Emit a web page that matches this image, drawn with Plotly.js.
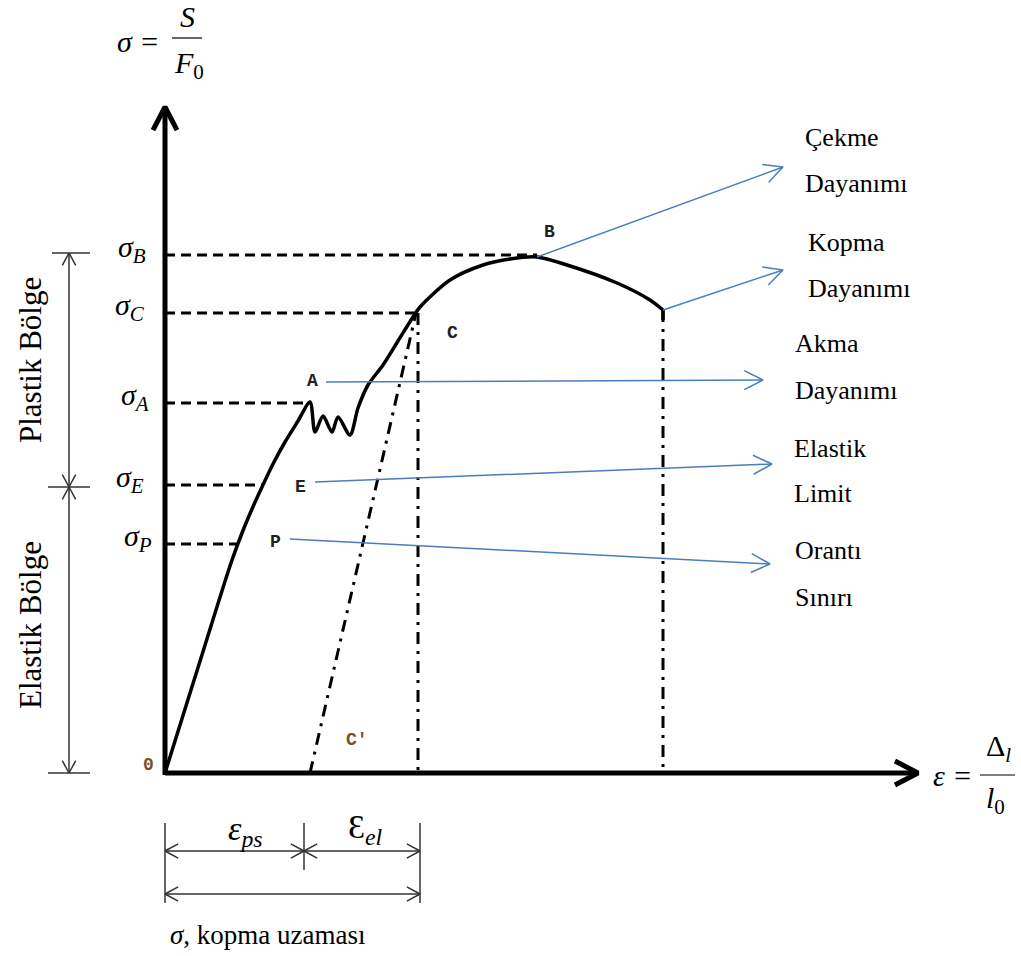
<!DOCTYPE html>
<html><head><meta charset="utf-8">
<script src="https://cdn.plot.ly/plotly-3.0.1.min.js"></script>
<style>html,body{margin:0;padding:0;background:#fff}#chart{width:1021px;height:956px}</style>
</head><body><div id="chart"></div>
<script>
// ---- data (strain units, stress units; origin at 0,0) ----
const curveStrain = [0,36,66,77,87,97,108,120,133,145,150,158,167,173,185,193,203,218,233,248,255,285,318,345,372,402,452,485,498];
const curveStress = [0,115,210,240,264,286,309,331,352,371,341,357,341,356,338,365,388,408,432,456,466,493,508,514,516,508,490,473,463];
const levelNames = ['B','C','A','E','P'];
const levelStress = [518,460,370,288,229];
const levelStrain = [372,250,145,97,72];
const levelLabelX = [-33,-35,-30,-35,-27];
const unloadStrain = [145,251];       // C' -> C
const unloadStress = [0,460];
const cStrain = 253, cStress = 460;
const fractureStrain = 498, fractureStress = 463;
const epsPlastic = 139, epsTotal = 255;
const pointNames = ['B','C','A','E','P',"C'",'0'];
const pointX = [384,287,147,135,110,192,-17];
const pointY = [541,440,392,286,231,33,8];
const calloutFrom = [[372,516],[498,463],[161,391],[150,291],[125,234]];
const calloutTo   = [[618,606],[618,503],[598,393],[607,309],[605,209]];
const calloutText = [['Çekme','Dayanımı'],['Kopma','Dayanımı'],['Akma','Dayanımı'],['Elastik','Limit'],['Orantı','Sınırı']];
const calloutTextX = [638,641,628,627,628];
const calloutTextY = [[636,590],[531,485],[430,383],[325,280],[223,176]];
const xAxisEnd = 753, yAxisEnd = 666;
const plasticZone = [286,520], elasticZone = [0,286];

// ---- helpers ----
const traces = [];
function line(xs, ys, color, width, dash){
  traces.push({x:xs, y:ys, mode:'lines', line:{color:color, width:width, dash:dash||'solid'}, hoverinfo:'skip'});
}
function chevron(tip, from, L, ang, color, width){
  const dx = tip[0]-from[0], dy = tip[1]-from[1];
  const n = Math.hypot(dx,dy), ux = dx/n, uy = dy/n;
  const pts = [];
  [ang, -ang].forEach(a=>{
    const c=Math.cos(a), s=Math.sin(a);
    const rx = ux*c - uy*s, ry = ux*s + uy*c;
    pts.push([tip[0]-L*rx, tip[1]-L*ry]);
  });
  line([pts[0][0], tip[0], pts[1][0]], [pts[0][1], tip[1], pts[1][1]], color, width);
}
function dblArrow(x0, x1, y, color){
  line([x0,x1],[y,y],color,1.5);
  chevron([x0,y],[x1,y],15,0.5,color,1.5);
  chevron([x1,y],[x0,y],15,0.5,color,1.5);
}

// axes
line([0,xAxisEnd],[0,0],'#000',5);
line([0,0],[-2,yAxisEnd],'#000',5);
chevron([0,yAxisEnd],[0,0],26,0.48,'#000',5);
chevron([xAxisEnd,0],[0,0],26,0.48,'#000',5);

// dashed level lines
levelStress.forEach((s,i)=> line([0,levelStrain[i]],[s,s],'#000',3,'10px,6px'));

// dash-dot lines
line(unloadStrain, unloadStress, '#000', 3, '12px,7px,3px,7px');
line([cStrain,cStrain],[cStress,0],'#000',3,'12px,7px,3px,7px');
line([fractureStrain,fractureStrain],[fractureStress,0],'#000',3,'12px,7px,3px,7px');

// main curve
traces.push({x:curveStrain, y:curveStress, mode:'lines', line:{color:'#000', width:3.5, shape:'spline', smoothing:0.8}, hoverinfo:'skip'});
line([fractureStrain,fractureStrain],[fractureStress,fractureStress-10],'#000',3.5);

// callout arrows
calloutFrom.forEach((f,i)=>{
  const t = calloutTo[i];
  line([f[0],t[0]],[f[1],t[1]],'#4a7ebb',1.5);
  chevron(t,f,21,0.47,'#4a7ebb',1.5);
});

// left zone brackets
const bx = -96;
line([bx,bx],[elasticZone[0],plasticZone[1]],'#333',1.5);
line([-113,-75],[plasticZone[1],plasticZone[1]],'#333',1.5);
line([-117,-75],[plasticZone[0],plasticZone[0]],'#333',1.5);
line([-117,-75],[0,0],'#333',1.5);
chevron([bx,plasticZone[1]],[bx,plasticZone[0]],14,0.5,'#333',1.5);
chevron([bx,plasticZone[0]],[bx,plasticZone[1]],14,0.5,'#333',1.5);
chevron([bx,elasticZone[1]],[bx,elasticZone[0]],14,0.5,'#333',1.5);
chevron([bx,elasticZone[0]],[bx,elasticZone[1]],14,0.5,'#333',1.5);

// bottom dimensions
line([0,0],[-50,-130],'#333',1.5);
line([epsPlastic,epsPlastic],[-50,-97],'#333',1.5);
line([epsTotal,epsTotal],[-50,-130],'#333',1.5);
dblArrow(0,epsPlastic,-78,'#333');
dblArrow(epsPlastic,epsTotal,-78,'#333');
dblArrow(0,epsTotal,-121,'#333');

// fraction bars
line([7,37],[735,735],'#000',1.2);
line([815,850],[-2,-2],'#000',1.2);

// ---- annotations ----
const serif = '"Liberation Serif", "Times New Roman", serif';
const ann = [];
function txt(x,y,text,size,opts,style){
  ann.push(Object.assign({x:x,y:y,xref:'x',yref:'y',text:text,showarrow:false,font:{family:serif,size:size,color:'#000',style:style||'normal'}},opts||{}));
}
levelNames.forEach((n,i)=> txt(levelLabelX[i], levelStress[i]+6, 'σ<sub>'+n+'</sub>', 30, null, 'italic'));
pointNames.forEach((n,i)=> ann.push({x:pointX[i],y:pointY[i],xref:'x',yref:'y',text:n,showarrow:false,font:{family:'"Liberation Mono", "Courier New", monospace',size:18,weight:'bold',color: (n==="C'"||n==='0')?'#7a5020':'#222'}}));
calloutText.forEach((pair,i)=>{
  txt(calloutTextX[i], calloutTextY[i][0], pair[0], 26, {xanchor:'left'});
  txt(calloutTextX[i], calloutTextY[i][1], pair[1], 26, {xanchor:'left'});
});
txt(-135,413,'Plastik Bölge',31,{textangle:-90});
txt(-135,148,'Elastik Bölge',31,{textangle:-90});
txt(-27,732,'σ =',30,null,'italic');
txt(22,757,'S',30,null,'italic');
txt(24,708,'<i>F</i><sub>0</sub>',30);
txt(788,-2,'ε =',30,null,'italic');
txt(833,25,'Δ<sub><i>l</i></sub>',30);
txt(830,-27,'<i>l</i><sub>0</sub>',30);
txt(80,-58,'ε<sub>ps</sub>',34,null,'italic');
txt(200,-56,'Ɛ<sub><i>el</i></sub>',34);
txt(103,-162,'<i>σ</i>, kopma uzaması',27);

const layout = {
  width:1021, height:956,
  margin:{l:0,r:0,t:0,b:0},
  paper_bgcolor:'#fff', plot_bgcolor:'#fff',
  showlegend:false,
  xaxis:{range:[-165,856], visible:false, fixedrange:true},
  yaxis:{range:[-183,773], visible:false, fixedrange:true},
  annotations:ann
};
Plotly.newPlot('chart', traces, layout, {displayModeBar:false});
</script>
</body></html>
